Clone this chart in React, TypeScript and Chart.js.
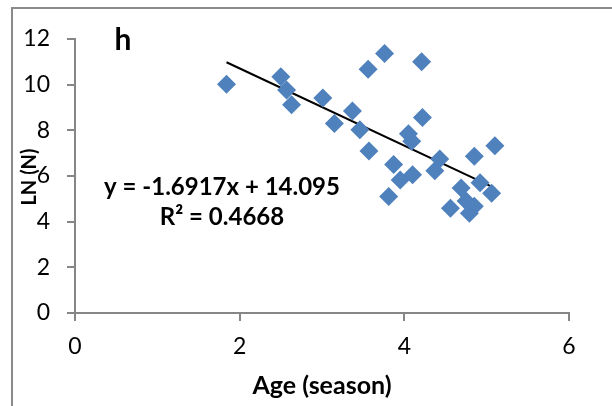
import React, { useEffect, useRef } from "react";
import { Chart, registerables } from "chart.js";

Chart.register(...registerables);

// Data
const ageValues = [1.84, 2.5, 2.57, 2.63, 3.01, 3.15, 3.37, 3.46, 3.56, 3.76, 3.57, 3.81, 3.87, 3.95, 4.05, 4.09, 4.1, 4.21, 4.22, 4.37, 4.43, 4.56, 4.69, 4.75, 4.79, 4.85, 4.85, 4.92, 5.06, 5.1];
const lnValues = [10.02, 10.35, 9.77, 9.12, 9.42, 8.3, 8.85, 8.03, 10.67, 11.37, 7.09, 5.1, 6.5, 5.83, 7.85, 7.52, 6.05, 11.0, 8.56, 6.23, 6.74, 4.59, 5.47, 4.9, 4.37, 4.68, 6.87, 5.7, 5.24, 7.32];
const trendSlope = -1.6917;
const trendIntercept = 14.095;
const xTicks = [0, 2, 4, 6];
const yTicks = [0, 2, 4, 6, 8, 10, 12];
const xTitle = "Age (season)";
const yTitle = "LN (N)";
const panelLabel = "h";
const equationText = "y = -1.6917x + 14.095";
const r2Text = "R\u00B2 = 0.4668";

const FONT = "Lato, 'Open Sans', sans-serif";

export default function App() {
  const ref = useRef<HTMLCanvasElement>(null);

  useEffect(() => {
    if (!ref.current) return;
    const xMin = Math.min(...ageValues);
    const xMax = Math.max(...ageValues);
    const trend = [xMin, xMax].map((x) => ({ x, y: trendSlope * x + trendIntercept }));

    const textPlugin = {
      id: "texts",
      beforeDraw(chart: any) {
        const ctx = chart.ctx;
        ctx.save();
        ctx.strokeStyle = "#8a8a8a";
        ctx.lineWidth = 2;
        ctx.strokeRect(12, 8, 700, 500);
        ctx.restore();
      },
      afterDraw(chart: any) {
        const ctx = chart.ctx;
        ctx.save();
        ctx.fillStyle = "#000";
        ctx.textAlign = "center";
        ctx.textBaseline = "middle";
        ctx.font = `bold 25px ${FONT}`;
        ctx.fillText(xTitle, 322, 386);
        ctx.font = `bold 30px ${FONT}`;
        ctx.fillText(panelLabel, 123, 40);
        ctx.font = `bold 24px ${FONT}`;
        ctx.fillText(equationText, 222, 187);
        ctx.fillText(r2Text, 222, 217);
        ctx.translate(30, 177);
        ctx.rotate(-Math.PI / 2);
        ctx.font = `bold 20px ${FONT}`;
        ctx.fillText(yTitle, 0, 0);
        ctx.restore();
      },
    };

    const chart = new Chart(ref.current, {
      type: "scatter",
      data: {
        datasets: [
          {
            type: "scatter",
            data: ageValues.map((x, i) => ({ x, y: lnValues[i] })),
            pointStyle: "rectRot",
            pointRadius: 9.5,
            pointHoverRadius: 9.5,
            backgroundColor: "#4F81BD",
            borderColor: "#4F81BD",
            borderWidth: 0,
          },
          {
            type: "line",
            data: trend,
            borderColor: "#000",
            borderWidth: 2,
            pointRadius: 0,
            fill: false,
          } as any,
        ],
      },
      options: {
        animation: false,
        responsive: false,
        events: [],
        layout: { padding: { top: 39, right: 43, bottom: 0, left: 0 } },
        plugins: { legend: { display: false }, tooltip: { enabled: false } },
        scales: {
          x: {
            type: "linear",
            min: 0,
            max: 6,
            afterBuildTicks: (s: any) => { s.ticks = xTicks.map((v) => ({ value: v })); },
            afterFit: (s: any) => {
              s.height = 93;
              s.paddingLeft = 0; s.paddingRight = 0; s.paddingTop = 0; s.paddingBottom = 0;
            },
            grid: { drawOnChartArea: false, drawTicks: true, tickLength: 8, color: "#868686", lineWidth: 2 },
            border: { color: "#868686", width: 2 },
            ticks: { color: "#000", padding: 12, font: { family: FONT, size: 23 } },
          },
          y: {
            type: "linear",
            min: 0,
            max: 12,
            afterBuildTicks: (s: any) => { s.ticks = yTicks.map((v) => ({ value: v })); },
            afterFit: (s: any) => {
              s.width = 75;
              s.paddingLeft = 0; s.paddingRight = 0; s.paddingTop = 0; s.paddingBottom = 0;
            },
            grid: { drawOnChartArea: false, drawTicks: true, tickLength: 8, color: "#868686", lineWidth: 2 },
            border: { color: "#868686", width: 2 },
            ticks: { color: "#000", padding: 17, font: { family: FONT, size: 23 } },
          },
        },
      },
      plugins: [textPlugin],
    });
    return () => chart.destroy();
  }, []);

  return (
    <div style={{ position: "absolute", left: 0, top: 0, width: 612, height: 406, background: "#fff" }}>
      <canvas ref={ref} width={612} height={406} style={{ display: "block", width: 612, height: 406 }} />
    </div>
  );
}
